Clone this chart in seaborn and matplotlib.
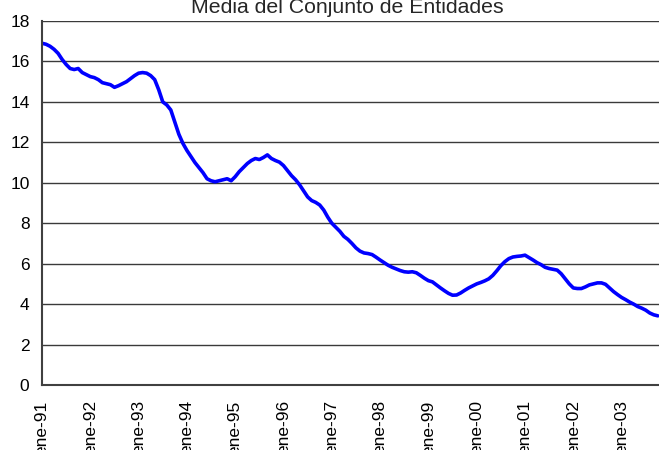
import pandas as pd
import numpy as np
import matplotlib
matplotlib.use("Agg")
import matplotlib.pyplot as plt
import seaborn as sns

# Monthly values, ene-91 .. oct-03
values_91_93 = [16.9, 16.85, 16.75, 16.6, 16.4, 16.1, 15.85, 15.65, 15.6, 15.65, 15.45, 15.35,
                15.25, 15.2, 15.1, 14.95, 14.9, 14.85, 14.72, 14.8, 14.9, 15.0, 15.15, 15.3,
                15.42, 15.45, 15.42, 15.3, 15.1, 14.6, 14.0, 13.85, 13.6, 13.0, 12.4, 11.95]
values_94_96 = [11.6, 11.3, 11.0, 10.75, 10.5, 10.2, 10.1, 10.05, 10.1, 10.15, 10.2, 10.1,
                10.3, 10.55, 10.75, 10.95, 11.1, 11.2, 11.15, 11.25, 11.38, 11.2, 11.1, 11.02,
                10.85, 10.6, 10.35, 10.15, 9.9, 9.6, 9.3, 9.12, 9.03, 8.9, 8.65, 8.3]
values_97_99 = [8.0, 7.8, 7.6, 7.35, 7.2, 7.0, 6.78, 6.62, 6.53, 6.5, 6.45, 6.32,
                6.18, 6.05, 5.92, 5.82, 5.74, 5.66, 5.6, 5.58, 5.6, 5.55, 5.42, 5.28,
                5.16, 5.1, 4.95, 4.8, 4.66, 4.53, 4.44, 4.45, 4.55, 4.68, 4.8, 4.9]
values_00_03 = [5.0, 5.07, 5.15, 5.25, 5.42, 5.65, 5.9, 6.1, 6.25, 6.33, 6.36, 6.38,
                6.42, 6.3, 6.18, 6.05, 5.95, 5.82, 5.76, 5.72, 5.68, 5.5, 5.25, 5.0,
                4.8, 4.77, 4.77, 4.85, 4.95, 5.0, 5.05, 5.05, 4.98, 4.8, 4.62, 4.47,
                4.33, 4.22, 4.1, 4.0, 3.88, 3.8, 3.7, 3.56, 3.47, 3.42]

tick_labels = ["ene-91", "ene-92", "ene-93", "ene-94", "ene-95", "ene-96", "ene-97",
               "ene-98", "ene-99", "ene-00", "ene-01", "ene-02", "ene-03"]
y_ticks = [0, 2, 4, 6, 8, 10, 12, 14, 16, 18]
title = "Media del Conjunto de Entidades"

values = values_91_93 + values_94_96 + values_97_99 + values_00_03
df = pd.DataFrame({"mes": np.arange(len(values)), "media": values})

sns.set_style("white")
plt.rcParams["font.family"] = ["Liberation Sans", "DejaVu Sans"]

fig = plt.figure(figsize=(6.59, 4.5), dpi=100)
ax = fig.add_axes([42 / 659, 1 - 385 / 450, 617 / 659, 364 / 450])

sns.lineplot(data=df, x="mes", y="media", ax=ax, color="#0000FF", linewidth=2.6)

ax.set_xlim(0, (659 - 42) / 4.025)
ax.set_ylim(0, 18)
ax.set_yticks(y_ticks)
ax.set_xticks(np.arange(len(tick_labels)) * 12)
ax.set_xticklabels(tick_labels, rotation=90, va="top", ha="center")
ax.set_xlabel("")
ax.set_ylabel("")

for v in y_ticks[1:]:
    ax.axhline(v, color="#3a3a3a", linewidth=1.0, zorder=0)

for side in ["top", "right"]:
    ax.spines[side].set_visible(False)
for side in ["left", "bottom"]:
    ax.spines[side].set_color("#404040")
    ax.spines[side].set_linewidth(1.5)

ax.tick_params(axis="both", direction="out", length=4, width=1.2, color="#404040",
               labelsize=12.5, labelcolor="black")
ax.tick_params(axis="x", pad=7)
ax.tick_params(axis="y", pad=5)

fig.text(0.527, 1 - 13 / 450, title, ha="center", va="baseline", fontsize=15.3)

fig.savefig("out.png", dpi=100)
